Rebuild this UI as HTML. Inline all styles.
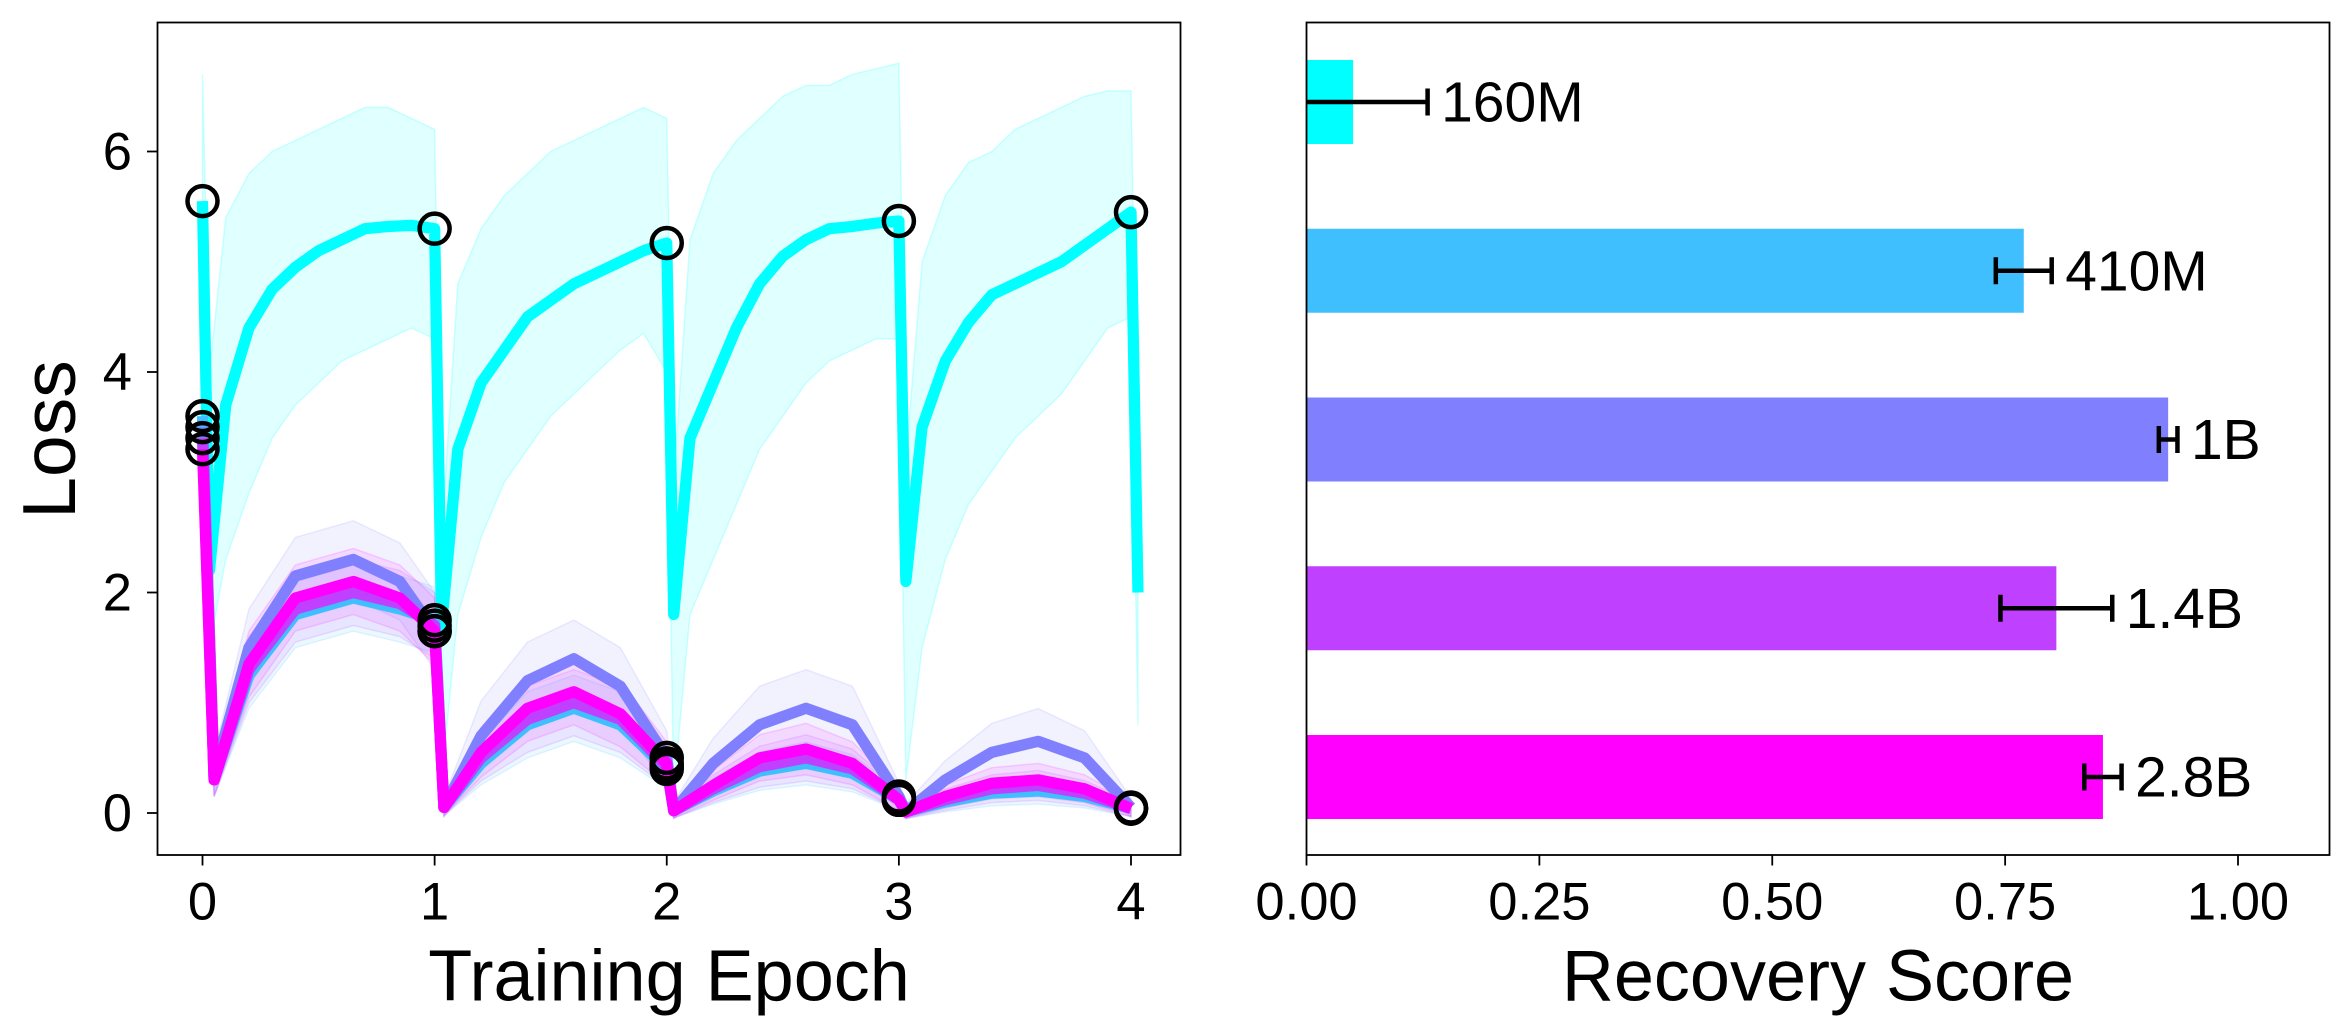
<!DOCTYPE html>
<html><head><meta charset="utf-8"><style>
body{margin:0;background:#fff;}
svg{display:block;}
svg text{font-family:"Liberation Sans","DejaVu Sans",sans-serif;fill:#000;}
</style></head><body>
<svg id="chart" width="2351" height="1035" viewBox="0 0 1567.33 690" xmlns="http://www.w3.org/2000/svg">
<g id="left"></g>
<g id="right"></g>
</svg>
<script>
// ---- Left chart data ----
const cyanX = [0,0.03,0.1,0.2,0.3,0.4,0.5,0.6,0.7,0.8,0.9, 1,1.03,1.1,1.2,1.3,1.4,1.5,1.6,1.7,1.8,1.9, 2,2.03,2.1,2.2,2.3,2.4,2.5,2.6,2.7,2.8,2.9, 3,3.03,3.1,3.2,3.3,3.4,3.5,3.6,3.7,3.8,3.9, 4,4.03];
const cyanY = [5.55,2.2,3.7,4.4,4.75,4.95,5.1,5.2,5.3,5.32,5.33, 5.3,1.7,3.3,3.9,4.2,4.5,4.65,4.8,4.9,5.0,5.1, 5.17,1.8,3.4,3.9,4.4,4.8,5.05,5.2,5.3,5.32,5.35, 5.37,2.1,3.5,4.1,4.45,4.7,4.8,4.9,5.0,5.15,5.3, 5.45,2.0];
const cyanHi = [6.7,4.0,5.4,5.8,6.0,6.1,6.2,6.3,6.4,6.4,6.3, 6.2,2.5,4.8,5.3,5.6,5.8,6.0,6.1,6.2,6.3,6.4, 6.3,3.0,5.2,5.8,6.1,6.3,6.5,6.6,6.6,6.7,6.75, 6.8,3.2,5.0,5.6,5.9,6.0,6.2,6.3,6.4,6.5,6.55, 6.55,3.0];
const cyanLo = [4.4,1.5,2.3,2.9,3.4,3.7,3.9,4.1,4.2,4.3,4.4, 4.3,0.3,1.8,2.5,3.0,3.3,3.6,3.8,4.0,4.2,4.35, 4.0,0.2,1.8,2.3,2.8,3.3,3.6,3.9,4.1,4.2,4.3, 4.3,0.3,1.5,2.3,2.8,3.1,3.4,3.6,3.8,4.1,4.4, 4.5,0.8];
const lowX = [0,0.05,0.2,0.4,0.65,0.85,1.0,1.04,1.2,1.4,1.6,1.8,2.0,2.03,2.2,2.4,2.6,2.8,3.0,3.03,3.2,3.4,3.6,3.8,4.0];
const y410M = [3.6,0.3,1.25,1.8,1.95,1.85,1.75,0.05,0.45,0.8,0.95,0.8,0.4,0.02,0.2,0.38,0.45,0.36,0.12,0.01,0.1,0.18,0.2,0.15,0.04];
const y1B = [3.5,0.35,1.5,2.15,2.3,2.1,1.65,0.05,0.7,1.2,1.4,1.15,0.5,0.02,0.45,0.8,0.95,0.8,0.15,0.01,0.3,0.55,0.65,0.5,0.05];
const y14B = [3.4,0.3,1.3,1.85,2.0,1.9,1.7,0.05,0.5,0.85,1.0,0.85,0.42,0.02,0.22,0.42,0.5,0.4,0.12,0.01,0.12,0.22,0.25,0.18,0.04];
const y28B = [3.3,0.3,1.35,1.95,2.1,1.95,1.65,0.05,0.55,0.95,1.1,0.9,0.45,0.02,0.25,0.5,0.58,0.45,0.12,0.01,0.15,0.27,0.3,0.22,0.04];
const xTicks = [0,1,2,3,4];
const yTicks = [0,2,4,6];
// ---- Right chart data ----
const models = ["160M","410M","1B","1.4B","2.8B"];
const scores = [0.05,0.77,0.925,0.805,0.855];
const errs = [0.08,0.03,0.01,0.06,0.02];
const sTicks = [0,0.25,0.5,0.75,1.0];
const sTickLabels = ["0.00","0.25","0.50","0.75","1.00"];

const NS="http://www.w3.org/2000/svg";
function mk(parent,tag,attrs){const e=document.createElementNS(NS,tag);for(const k in attrs)e.setAttribute(k,attrs[k]);parent.appendChild(e);return e;}
const L=document.getElementById('left'), R=document.getElementById('right');
const xS=v=>135+v*154.75, yS=v=>542-v*73.5;
function band(xs,hi,lo,color,op,name){
  let d='M'+xs.map((x,i)=>xS(x)+','+yS(hi[i])).join('L');
  for(let i=xs.length-1;i>=0;i--) d+='L'+xS(xs[i])+','+yS(lo[i]);
  const p=mk(L,'path',{d:d+'Z',fill:color,'fill-opacity':op,stroke:color,'stroke-opacity':op*1.5});
  
  
}
band(cyanX,cyanHi,cyanLo,'#00ffff',0.12,'band-160m');
const lows=[[y410M,'#40bfff','410m'],[y1B,'#8080ff','1b'],[y14B,'#bf40ff','1.4b'],[y28B,'#ff00ff','2.8b']];
const spread=[0.3,0.35,0.3,0.3];
lows.forEach(([ys,c,n],k)=>{
  band(lowX,ys.map(v=>v+spread[k]*Math.min(1,v+0.2)),ys.map(v=>Math.max(-0.05,v-spread[k]*Math.min(1,v+0.2))),c,0.1,'band-'+n);
});
function line(xs,ys,color,name){
  const p=mk(L,'path',{d:'M'+xs.map((x,i)=>xS(x)+','+yS(ys[i])).join('L'),fill:'none',stroke:color,'stroke-width':7.5,'stroke-linejoin':'round'});
  
  
}
line(cyanX,cyanY,'#00ffff','line-160m');
lows.forEach(([ys,c,n])=>line(lowX,ys,c,'line-'+n));
function marker(x,y){const c=mk(L,'circle',{cx:xS(x),cy:yS(y),r:10,fill:'none',stroke:'#000','stroke-width':3});
  
  }
cyanX.forEach((x,i)=>{if(Number.isInteger(x))marker(x,cyanY[i]);});
lows.forEach(([ys])=>lowX.forEach((x,i)=>{if(Number.isInteger(x))marker(x,ys[i]);}));
const fr=mk(L,'rect',{x:105,y:15,width:682,height:555,fill:'none',stroke:'#000','stroke-width':1.2});

xTicks.forEach(t=>{mk(L,'line',{x1:xS(t),x2:xS(t),y1:570,y2:577,stroke:'#000','stroke-width':1.2});
  const tx=mk(L,'text',{x:xS(t),y:613,'font-size':35,'text-anchor':'middle'});tx.textContent=t;
  });
yTicks.forEach(t=>{mk(L,'line',{x1:98,x2:105,y1:yS(t),y2:yS(t),stroke:'#000','stroke-width':1.2});
  const tx=mk(L,'text',{x:88,y:yS(t)+12,'font-size':35,'text-anchor':'end'});tx.textContent=t;
  });
let t1=mk(L,'text',{x:446,y:667,'font-size':48,'text-anchor':'middle'});t1.textContent='Training Epoch';

let t2=mk(L,'text',{x:0,y:0,'font-size':50,'text-anchor':'middle',transform:'translate(50,293) rotate(-90)'});t2.textContent='Loss';


const sx=v=>871+v*621, cy=i=>68+i*112.5;
const colors=['#00ffff','#40bfff','#8080ff','#bf40ff','#ff00ff'];
models.forEach((m,i)=>{
  const b=mk(R,'rect',{x:sx(0),y:cy(i)-28,width:sx(scores[i])-sx(0),height:56,fill:colors[i]});
  
  
  const lo=sx(scores[i]-errs[i]), hi=sx(scores[i]+errs[i]);
  const g=mk(R,'g',{stroke:'#000','stroke-width':3});
  
  
  mk(g,'line',{x1:Math.max(lo,871),x2:hi,y1:cy(i),y2:cy(i)});
  if(lo>=871) mk(g,'line',{x1:lo,x2:lo,y1:cy(i)-9,y2:cy(i)+9});
  mk(g,'line',{x1:hi,x2:hi,y1:cy(i)-9,y2:cy(i)+9});
  const tx=mk(R,'text',{x:hi+9,y:cy(i)+13,'font-size':38});tx.textContent=m;
  
});
const fr2=mk(R,'rect',{x:871,y:15,width:682,height:555,fill:'none',stroke:'#000','stroke-width':1.2});

sTicks.forEach((t,i)=>{mk(R,'line',{x1:sx(t),x2:sx(t),y1:570,y2:577,stroke:'#000','stroke-width':1.2});
  const tx=mk(R,'text',{x:sx(t),y:613,'font-size':35,'text-anchor':'middle'});tx.textContent=sTickLabels[i];
  });
let t3=mk(R,'text',{x:1212,y:667,'font-size':48,'text-anchor':'middle'});t3.textContent='Recovery Score';

</script>
</body></html>
